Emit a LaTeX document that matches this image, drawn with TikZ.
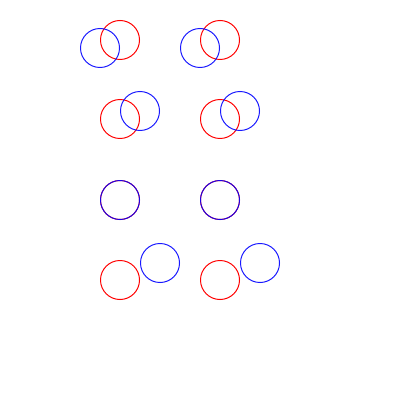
\documentclass[tikz,border=0pt]{standalone}
\usepackage{tikz}
\tikzstyle{ring} = [
    circle,
    minimum size=0.975cm,
    inner sep=0pt,
    line width=0.7pt
]
\tikzstyle{redring} = [ring, draw=red]
\tikzstyle{bluering} = [ring, draw=blue, draw opacity=0.9]

\begin{document}
\begin{tikzpicture}[x=0.025cm, y=-0.025cm]
\useasboundingbox (0,0) rectangle (400,400);

% row 1: blue left and below
\node (r1a) [redring] at (120,40) {};
\node (b1a) [bluering] at (100,48) {};
\node (r1b) [redring] at (220,40) {};
\node (b1b) [bluering] at (200,48) {};

% row 2: blue right and above
\node (r2a) [redring] at (120,119) {};
\node (b2a) [bluering] at (140,111) {};
\node (r2b) [redring] at (220,119) {};
\node (b2b) [bluering] at (240,111) {};

% row 3: same place
\node (r3a) [redring] at (120,200) {};
\node (b3a) [bluering] at (120,200) {};
\node (r3b) [redring] at (220,200) {};
\node (b3b) [bluering] at (220,200) {};

% row 4: apart
\node (r4a) [redring] at (120,280) {};
\node (b4a) [bluering] at (160,263) {};
\node (r4b) [redring] at (220,280) {};
\node (b4b) [bluering] at (260,263) {};

\end{tikzpicture}
\end{document}
